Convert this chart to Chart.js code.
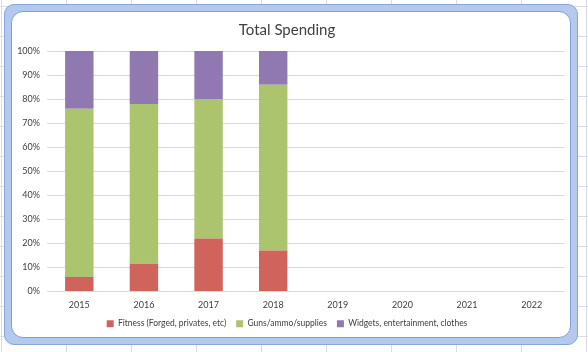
<!DOCTYPE html>
<html>
<head>
<meta charset="utf-8">
<script src="https://cdn.jsdelivr.net/npm/chart.js@4/dist/chart.umd.min.js"></script>
<style>
  html, body { margin: 0; padding: 0; }
  body {
    width: 588px; height: 352px; position: relative; overflow: hidden;
    background-color: #ffffff;
    background-image:
      linear-gradient(to right, #dadcdd 1px, transparent 1px),
      linear-gradient(to bottom, #dadcdd 1px, transparent 1px);
    background-size: 65px 30px, 65px 30px;
    background-position: 1px 6px, 1px 6px;
  }
  #frame {
    position: absolute; left: 4px; top: 4px; width: 572px; height: 339px;
    background: #b5c9ec; border: 1px solid #86a6dc; border-radius: 10px;
  }
  #inner {
    position: absolute; left: 6px; top: 6px; right: 6px; bottom: 6px;
    background: #fff; border: 1px solid #7f9fd6; border-radius: 12px;
  }
  #wrap { position: absolute; left: 0; top: 0; width: 588px; height: 352px; }
</style>
</head>
<body>
<div id="frame"><div id="inner"></div></div>
<div id="wrap"><canvas id="myChart" width="588" height="352"></canvas></div>
<script>
var years = ["2015", "2016", "2017", "2018", "2019", "2020", "2021", "2022"];
var fitness = [6, 11.5, 22, 17, null, null, null, null];
var guns = [70, 66.5, 58, 69, null, null, null, null];
var widgets = [24, 22, 20, 14, null, null, null, null];
var yTicks = [0, 10, 20, 30, 40, 50, 60, 70, 80, 90, 100];

var font = "Lato, 'Open Sans', sans-serif";

var ctx = document.getElementById('myChart').getContext('2d');
var myChart = new Chart(ctx, {
    type: 'bar',
    data: {
        labels: years,
        datasets: [{
                  data: fitness,
                  label: "Fitness (Forged, privates, etc)",
                  backgroundColor: "#d0635b"
                }, {
                  data: guns,
                  label: "Guns/ammo/supplies",
                  backgroundColor: "#abc46d"
                }, {
                  data: widgets,
                  label: "Widgets, entertainment, clothes",
                  backgroundColor: "#9079b0"
                }
              ]
            },
    options: {
        responsive: false,
        animation: false,
        barPercentage: 0.44,
        categoryPercentage: 1,
        layout: { padding: { left: 10, right: 24, top: 21, bottom: 14 } },
        plugins: {
            tooltip: { enabled: false },
            title: {
                display: true,
                text: "Total Spending",
                color: "#404040",
                font: { family: font, size: 15, weight: 'normal' },
                padding: { top: 0, bottom: 12 }
            },
            legend: {
                position: 'bottom',
                labels: {
                    boxWidth: 7, boxHeight: 7, padding: 10,
                    color: "#404040",
                    font: { family: font, size: 8.5 }
                }
            }
        },
        scales: {
            x: {
                stacked: true,
                grid: { display: false, drawTicks: false },
                border: { display: false },
                afterFit: function (s) { s.height = 18; },
                ticks: { color: "#404040", font: { family: font, size: 9 }, padding: 8 }
            },
            y: {
                stacked: true,
                min: 0, max: 100,
                afterBuildTicks: function (s) { s.ticks = yTicks.map(function (v) { return { value: v }; }); },
                afterFit: function (s) { s.width = 37; },
                grid: { color: "#d9d9d9", drawTicks: false },
                border: { display: false },
                ticks: {
                    color: "#404040", font: { family: font, size: 9 }, padding: 7,
                    callback: function (v) { return v + "%"; }
                }
            }
        }
    }
});
</script>
</body>
</html>
